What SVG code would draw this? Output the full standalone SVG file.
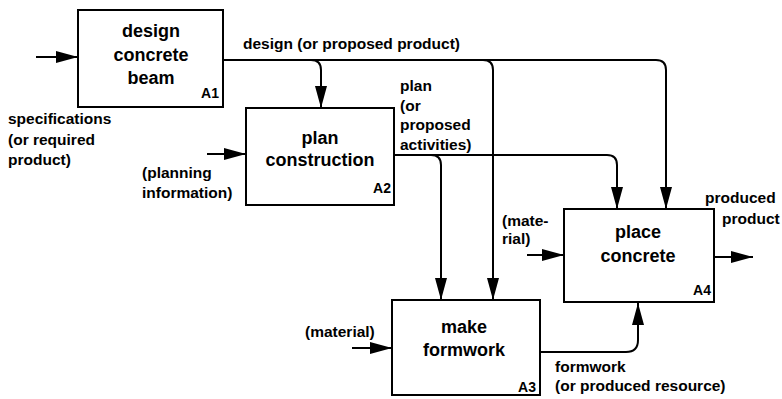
<svg xmlns="http://www.w3.org/2000/svg" width="782" height="399" viewBox="0 0 782 399">
<style>
.box{fill:#fff;stroke:#000;stroke-width:2}
.ttl{font-family:"Liberation Sans",Arial,sans-serif;font-weight:bold;font-size:18px;text-anchor:middle;fill:#000}
.id{font-family:"Liberation Sans",Arial,sans-serif;font-weight:bold;font-size:14px;text-anchor:end;fill:#000}
.lbl{font-family:"Liberation Sans",Arial,sans-serif;font-weight:bold;font-size:15.5px;fill:#000}
.c{fill:none;stroke:#000;stroke-width:2}
</style>
<defs>
<marker id="ah" markerUnits="userSpaceOnUse" markerWidth="22" markerHeight="12" refX="22" refY="6" orient="auto">
<path d="M0,0 L22,6 L0,12 Z" fill="#000"/>
</marker>
</defs>
<rect width="782" height="399" fill="#fff"/>
<g id="connectors">
<path class="c" d="M36,57 H78" marker-end="url(#ah)"/>
<path class="c" d="M207,154 H246" marker-end="url(#ah)"/>
<path class="c" d="M352,348 H392" marker-end="url(#ah)"/>
<path class="c" d="M527,255 H564" marker-end="url(#ah)"/>
<path class="c" d="M714,257 H753" marker-end="url(#ah)"/>
<path class="c" d="M223,60 H656 Q666,60 666,70 V209" marker-end="url(#ah)"/>
<path class="c" d="M311,60 Q321,60 321,70 V108" marker-end="url(#ah)"/>
<path class="c" d="M483,60 Q493,60 493,70 V300" marker-end="url(#ah)"/>
<path class="c" d="M394,155 H607 Q617,155 617,165 V209" marker-end="url(#ah)"/>
<path class="c" d="M431,155 Q441,155 441,165 V300" marker-end="url(#ah)"/>
<path class="c" d="M540,352 H626 Q638,352 638,340 V303" marker-end="url(#ah)"/>
</g>
<g id="A1">
<rect class="box" x="78" y="10" width="145" height="97"/>
<text class="ttl" x="151" y="37">design</text>
<text class="ttl" x="151" y="61">concrete</text>
<text class="ttl" x="151" y="84">beam</text>
<text class="id" x="219" y="98">A1</text>
</g>
<g id="A2">
<rect class="box" x="246" y="108" width="148" height="97"/>
<text class="ttl" x="320" y="144">plan</text>
<text class="ttl" x="320" y="166">construction</text>
<text class="id" x="391" y="193">A2</text>
</g>
<g id="A3">
<rect class="box" x="392" y="300" width="148" height="95"/>
<text class="ttl" x="464" y="333">make</text>
<text class="ttl" x="464" y="356">formwork</text>
<text class="id" x="536" y="392">A3</text>
</g>
<g id="A4">
<rect class="box" x="564" y="209" width="150" height="93"/>
<text class="ttl" x="638" y="238">place</text>
<text class="ttl" x="638" y="262">concrete</text>
<text class="id" x="711" y="295">A4</text>
</g>
<g id="labels">
<text class="lbl" x="243" y="49">design (or proposed product)</text>
<text class="lbl" x="8" y="124">specifications</text>
<text class="lbl" x="8" y="145">(or required</text>
<text class="lbl" x="8" y="165">product)</text>
<text class="lbl" x="142" y="178">(planning</text>
<text class="lbl" x="142" y="198">information)</text>
<text class="lbl" x="400" y="91">plan</text>
<text class="lbl" x="400" y="111">(or</text>
<text class="lbl" x="400" y="130">proposed</text>
<text class="lbl" x="400" y="150">activities)</text>
<text class="lbl" x="305" y="337">(material)</text>
<text class="lbl" x="502" y="226">(mate-</text>
<text class="lbl" x="502" y="244">rial)</text>
<text class="lbl" x="705" y="203">produced</text>
<text class="lbl" x="722" y="224">product</text>
<text class="lbl" x="555" y="372">formwork</text>
<text class="lbl" x="555" y="391">(or produced resource)</text>
</g>
</svg>
